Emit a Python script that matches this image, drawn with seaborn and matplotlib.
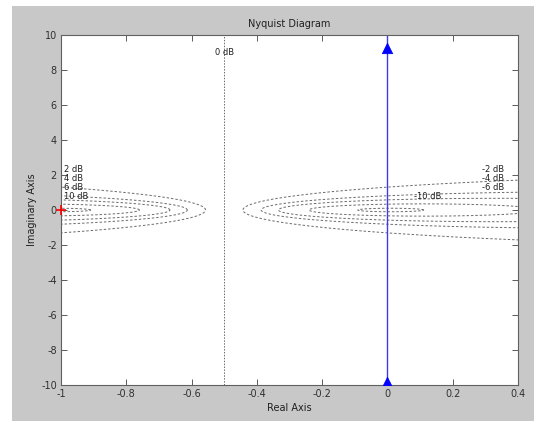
import numpy as np
import pandas as pd
import seaborn as sns
import matplotlib.pyplot as plt
from matplotlib.patches import Rectangle

# dados do diagrama
nyq_re = [0.0, 0.0]
nyq_im = [-10.0, 10.0]
seta_re = [0.0, 0.0]
seta_im = [9.26, -9.83]
m_db = [-20, -10, -6, -4, -2, 2, 4, 6, 10, 20]
rotulos = ["0 dB", "2 dB", "4 dB", "6 dB", "10 dB", "-2 dB", "-4 dB", "-6 dB", "-10 dB"]
rot_x = [-0.5, -0.99, -0.99, -0.99, -0.99, 0.29, 0.29, 0.29, 0.08]
rot_y = [9.0, 2.3, 1.8, 1.3, 0.8, 2.3, 1.8, 1.3, 0.8]
xticks = [-1, -0.8, -0.6, -0.4, -0.2, 0, 0.2, 0.4]
yticks = [-10, -8, -6, -4, -2, 0, 2, 4, 6, 8, 10]

sns.set_style("ticks")
plt.rcParams['font.family'] = ['DejaVu Sans']
plt.rcParams['axes.unicode_minus'] = False

fig = plt.figure(figsize=(5.34, 4.21), dpi=100, facecolor='white')
fig.add_artist(Rectangle((12/534, 0), 1, 1 - 6/421, transform=fig.transFigure,
                         facecolor='#c8c8c8', edgecolor='none', zorder=-10))
ax = fig.add_axes([61/534, 1 - 385/421, 457/534, 350/421])
ax.set_facecolor('white')

# circulos M (magnitude constante em malha fechada)
t = np.linspace(0, 2*np.pi, 600)
linhas = []
for db in m_db:
    M = 10**(db/20)
    c = -M**2/(M**2 - 1)
    r = abs(M/(M**2 - 1))
    linhas.append(pd.DataFrame({'re': c + r*np.cos(t), 'im': r*np.sin(t), 'db': db}))
circ = pd.concat(linhas)
sns.lineplot(data=circ, x='re', y='im', units='db', estimator=None, sort=False,
             color='#6a6a6a', lw=0.7, linestyle=(0, (2.5, 2)), ax=ax)
# linha de 0 dB
ax.axvline(-0.5, color='#6a6a6a', lw=0.7, linestyle=(0, (1.5, 1.5)))

for txt, x, y in zip(rotulos, rot_x, rot_y):
    ha = 'center' if txt == "0 dB" else 'left'
    ax.text(x, y, txt, fontsize=6, ha=ha, va='center', color='#202020')

# curva de Nyquist
sns.lineplot(x=nyq_re, y=nyq_im, estimator=None, sort=False,
             color='#3a3af0', lw=1.0, ax=ax)
sns.scatterplot(x=seta_re, y=seta_im, marker='^', s=55, color='#0000ff',
                edgecolor='#0000ff', ax=ax, zorder=5)
sns.scatterplot(x=[-1], y=[0], marker='+', s=60, color='red', linewidth=1.2,
                ax=ax, zorder=6, clip_on=False)

ax.set_xlim(-1, 0.4)
ax.set_ylim(-10, 10)
ax.set_xticks(xticks)
ax.set_xticklabels(['-1', '-0.8', '-0.6', '-0.4', '-0.2', '0', '0.2', '0.4'])
ax.set_yticks(yticks)
ax.tick_params(direction='in', length=4, width=0.6, labelsize=7, colors='#404040',
               labelcolor='#303030', top=True, right=True, pad=3)
for s in ax.spines.values():
    s.set_color('#606060')
    s.set_linewidth(0.8)

ax.set_title('Nyquist Diagram', fontsize=7, color='#202020', pad=6)
ax.set_xlabel('Real Axis', fontsize=7, color='#202020', labelpad=3)
ax.set_ylabel('Imaginary Axis', fontsize=7, color='#202020', labelpad=3)

fig.savefig('out.png', dpi=100, facecolor=fig.get_facecolor())
